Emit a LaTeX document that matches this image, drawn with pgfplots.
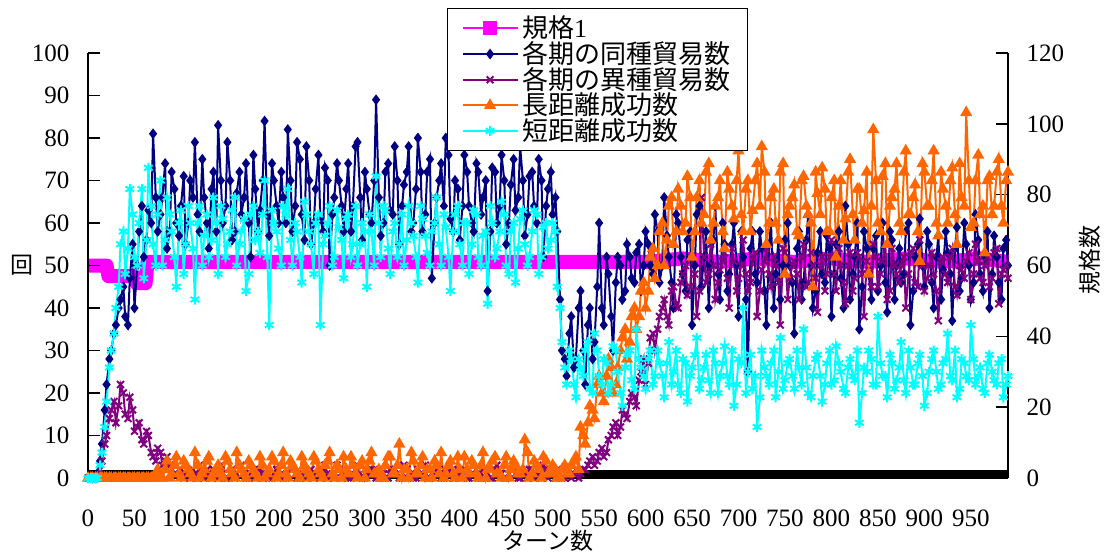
\documentclass[border=0pt]{standalone}
\usepackage{fontspec}
\setmainfont{Liberation Serif}
\newfontfamily\jp{Noto Sans CJK JP}
\usepackage{pgfplots}
\usepackage{pgfplotstable}
\pgfplotsset{compat=1.18}
\definecolor{cmag}{RGB}{255,0,255}
\definecolor{cnavy}{RGB}{0,0,128}
\definecolor{cpurp}{RGB}{128,0,128}
\definecolor{corange}{RGB}{255,102,0}
\definecolor{ccyan}{RGB}{0,255,255}
\pgfplotstableread{
t N P O C
0 0 0 0 0
3 0 0 0 0
5 0 0 0 0
8 0 0 0 0
10 1 0 0 0
13 4 2 0 3
15 8 4 0 6
18 16 8 0 12
20 22 10 0 18
23 28 14 0 26
25 30 16 0 30
28 34 18 0 34
30 36 13 0 40
33 40 17 0 45
35 42 22 0 55
38 45 20 0 58
40 38 15 0 48
43 36 14 0 54
45 47 19 0 68
48 55 16 0 62
50 40 11 0 52
53 50 12 0 50
55 58 13 0 60
58 64 9 0 68
60 52 8 0 47
63 56 11 0 56
65 63 10 0 73
68 60 6 0 64
70 81 5 0 55
73 66 4 1 50
75 58 7 2 62
78 62 6 0 70
80 66 3 0 50
83 74 4 2 56
85 54 5 4 66
88 58 3 0 62
90 72 2 1 58
93 68 1 3 52
95 60 1 5 45
98 57 2 1 60
100 64 2 0 63
103 71 0 4 48
105 55 1 3 55
108 60 1 2 64
110 70 0 1 60
113 66 2 0 54
115 79 1 6 42
118 62 0 3 60
120 58 3 0 64
123 75 1 1 50
125 66 0 2 57
128 60 2 4 62
130 54 1 5 52
133 68 0 0 56
135 72 2 1 66
138 58 1 2 60
140 83 0 3 48
143 70 3 1 64
145 60 1 0 61
148 64 0 5 52
150 79 0 4 55
153 70 1 2 58
155 56 2 1 63
158 58 0 0 66
160 67 1 6 50
163 72 2 3 55
165 62 3 2 58
168 66 1 1 61
170 74 0 0 44
173 60 0 4 48
175 52 1 3 62
178 76 1 2 64
180 68 0 1 56
183 58 2 0 58
185 63 2 5 53
188 70 0 3 62
190 84 1 0 70
193 62 1 1 52
195 57 0 2 36
198 74 0 5 63
200 70 1 4 60
203 64 2 0 58
205 60 3 1 54
208 72 1 3 50
210 66 0 6 64
213 60 0 1 62
215 82 1 0 68
218 70 3 4 56
220 58 2 3 50
223 64 1 2 60
225 79 0 1 58
228 75 0 0 52
230 62 1 5 46
233 56 2 3 65
235 78 0 2 62
238 70 1 1 58
240 55 2 0 55
243 60 0 5 48
245 68 1 4 60
248 76 1 2 62
250 61 0 1 36
253 58 2 0 55
255 73 3 3 57
258 70 0 4 60
260 50 1 6 64
263 62 1 1 50
265 66 0 0 52
268 74 3 3 63
270 70 2 2 59
273 64 0 0 56
275 58 1 5 47
278 68 1 2 61
280 74 0 1 62
283 58 0 5 52
285 64 1 3 55
288 78 2 1 64
290 79 3 0 50
293 66 1 3 55
295 56 0 4 60
298 72 0 0 58
300 68 1 2 45
303 62 1 4 62
305 60 2 6 58
308 70 2 1 50
310 89 0 1 71
313 66 0 2 60
315 57 1 0 52
318 60 1 0 64
320 72 0 3 63
323 74 0 5 54
325 63 2 5 48
328 62 2 1 58
330 78 1 1 60
333 70 1 3 52
335 55 0 8 55
338 64 0 0 62
340 69 3 2 50
343 72 2 2 56
345 78 1 0 64
348 58 1 6 60
350 60 0 4 57
353 68 0 1 52
355 80 2 1 46
358 72 1 3 64
360 58 1 5 61
363 62 3 0 57
365 72 0 2 53
368 75 0 2 50
370 47 1 0 58
373 60 1 4 60
375 66 2 3 66
378 70 2 1 55
380 74 0 6 50
383 64 0 0 62
385 80 1 1 59
388 76 1 3 52
390 61 3 4 44
393 58 0 1 58
395 70 0 0 62
398 68 2 5 64
400 56 1 2 55
403 64 1 0 50
405 76 2 5 60
408 72 0 2 60
410 64 0 1 48
413 60 1 4 55
415 58 1 3 63
418 74 2 1 62
420 72 0 0 52
423 62 0 3 50
425 66 2 6 57
428 70 1 0 58
430 44 1 2 41
433 58 0 2 64
435 73 0 4 60
438 72 2 5 52
440 60 3 1 54
443 64 1 1 58
445 76 1 0 65
448 70 0 3 62
450 55 0 5 50
453 60 1 0 48
455 69 2 2 58
458 75 3 4 60
460 63 1 3 46
463 66 0 1 54
465 78 0 1 61
468 70 1 2 63
470 57 1 9 55
473 62 0 6 50
475 71 2 0 52
478 72 2 1 58
480 64 0 4 63
483 60 1 3 62
485 75 1 2 48
488 70 0 0 52
490 52 3 5 59
493 64 2 4 60
495 68 0 1 54
498 72 1 1 56
500 62 1 3 60
503 66 0 2 58
505 58 2 0 45
508 42 1 0 40
510 30 0 2 32
513 28 0 3 26
515 24 1 1 22
518 34 2 1 30
520 38 0 3 28
523 26 1 4 22
525 28 2 5 19
528 40 0 2 28
530 44 1 12 26
533 30 2 10 24
535 22 2 8 30
538 36 3 13 32
540 40 4 17 21
543 28 5 16 20
545 32 3 14 34
548 45 4 22 30
550 60 6 24 24
553 40 7 20 22
555 36 5 18 28
558 52 6 24 27
560 48 9 28 20
563 38 10 26 22
565 30 12 20 31
568 46 13 22 30
570 52 10 26 25
573 50 12 30 20
575 42 16 33 17
578 44 15 35 26
580 55 14 28 29
583 52 18 32 30
585 47 20 38 23
588 46 19 40 21
590 53 17 35 35
593 55 23 38 28
595 44 25 44 26
598 50 28 46 24
600 58 22 40 21
603 55 27 44 28
605 50 33 52 30
608 48 34 54 22
610 62 30 47 24
613 58 35 50 30
615 46 38 58 27
618 50 40 60 24
620 66 42 50 19
623 57 38 56 27
625 52 36 64 32
628 46 44 66 22
630 40 45 55 25
633 62 41 58 30
635 60 40 68 22
638 52 46 64 20
640 48 48 58 28
643 44 50 60 27
645 56 43 71 18
648 58 45 66 24
650 36 52 52 26
653 50 48 58 29
655 62 38 66 33
658 64 44 70 21
660 45 66 60 23
663 52 52 62 26
665 58 46 72 29
668 40 48 74 23
670 50 55 56 20
673 56 50 60 30
675 64 42 64 27
678 48 46 66 20
680 42 49 70 24
683 60 51 58 27
685 55 53 54 31
688 44 47 72 24
690 48 40 68 22
693 55 54 64 30
695 60 51 61 17
698 50 44 70 22
700 38 47 77 28
703 58 50 62 27
705 52 56 58 40
708 42 48 68 20
710 25 44 70 25
713 54 46 58 29
715 58 52 63 21
718 48 53 70 24
720 46 38 74 12
723 58 44 64 19
725 54 49 78 30
728 44 51 72 26
730 36 54 55 24
733 55 48 60 22
735 60 45 66 27
738 40 52 68 30
740 48 50 60 19
743 56 46 56 25
745 42 36 72 33
748 50 54 74 21
750 56 53 48 23
753 60 42 62 27
755 50 47 64 28
758 46 50 66 24
760 34 51 69 21
763 54 48 58 30
765 58 42 57 26
768 42 52 70 22
770 46 55 71 35
773 56 45 64 26
775 62 46 62 20
778 50 53 60 19
780 40 50 45 24
783 44 47 72 28
785 53 39 67 29
788 58 50 62 24
790 48 52 73 18
793 46 44 68 22
795 57 48 58 27
798 54 52 58 30
800 38 56 66 22
803 48 48 70 23
805 55 44 52 31
808 58 54 64 27
810 47 50 70 25
813 40 46 56 21
815 64 41 61 20
818 55 50 72 26
820 42 53 75 28
823 48 44 62 24
825 52 47 56 23
828 60 53 68 30
830 35 52 68 13
833 45 48 60 20
835 58 38 63 26
838 54 51 72 25
840 48 49 48 30
843 42 45 64 28
845 54 55 82 22
848 57 52 70 22
850 44 45 60 38
853 50 48 58 27
855 60 51 71 24
858 46 55 74 24
860 39 42 55 19
863 58 44 64 29
865 56 54 66 27
868 42 50 68 21
870 50 48 74 23
873 54 46 60 26
875 46 50 58 32
878 48 52 72 23
880 58 40 77 20
883 60 48 62 30
885 36 53 62 26
888 44 54 66 22
890 52 46 69 22
893 55 45 58 27
895 61 56 51 29
898 50 50 74 24
900 45 44 72 17
903 58 47 64 20
905 55 50 64 25
908 46 53 70 28
910 40 48 77 30
913 52 44 60 25
915 57 37 57 21
918 42 51 72 22
920 49 52 68 27
923 58 48 64 28
925 53 46 60 34
928 48 52 70 24
930 37 54 73 23
933 54 45 62 30
935 59 43 55 19
938 44 50 74 21
940 47 49 66 28
943 60 47 64 27
945 55 51 86 24
948 50 53 70 23
950 42 42 59 36
953 46 48 60 28
955 62 55 70 22
958 56 51 76 24
960 48 47 62 26
963 44 46 64 21
965 52 50 53 20
968 58 52 70 27
970 40 45 71 29
973 48 47 62 25
975 57 53 64 23
978 52 54 72 22
980 46 41 75 27
983 42 48 64 28
985 54 49 60 19
988 56 50 70 22
990 50 47 72 24
}\data
\pgfplotsset{
  base/.style={scale only axis, width=460pt, height=212.5pt,
    xmin=0, xmax=990, clip=false, at={(0,0)}, anchor=south west,
    /pgf/number format/assume math mode=true,
    tick label style={font=\fontsize{12.5}{14}\selectfont},
    label style={font=\jp\fontsize{11.5}{13}\selectfont},
    axis line style={line width=0.75pt, black},
    tick align=inside, major tick length=6pt,
    y tick style={black, line width=0.75pt},
  },
}
\begin{document}
\begin{tikzpicture}
\begin{axis}[base, ymin=0, ymax=120,
  axis x line=none, axis y line*=right,
  ytick={0,20,...,120},
  yticklabel style={xshift=5.8pt},
  ylabel={規格数},
  y label style={at={(axis description cs:1.089,0.513)}, anchor=center},
]
\addplot[black, line width=4pt] coordinates {(0,1) (70,1)};
\addplot[black, line width=4pt] coordinates {(530,1) (990,1)};
\addplot[cmag, line width=7pt, line join=round] coordinates {(0,60) (20,60) (22,57) (50,57) (52,55) (62,55) (64,61) (600,61) (640,62) (680,61) (720,62) (760,61) (800,62) (840,61) (880,62) (920,61) (960,62) (990,61)};
\end{axis}
\begin{axis}[base, ymin=0, ymax=100,
  axis x line*=bottom, axis y line*=left,
  xtick={0,50,...,950}, ytick={0,10,...,100},
  xtick style={draw=none},
  xticklabel style={yshift=-12.5pt},
  yticklabel style={xshift=-5.8pt},
  xlabel={ターン数}, ylabel={回},
  x label style={at={(axis description cs:0.5,-0.148)}, anchor=center},
  y label style={at={(axis description cs:-0.0717,0.5)}, rotate=-90, anchor=center},
  legend style={at={(0.39,1.106)}, anchor=north west, draw=black, line width=0.75pt,
    fill=white, font=\jp\fontsize{13}{13}\selectfont, cells={anchor=west},
    inner xsep=7pt, inner ysep=3.5pt,
    nodes={inner ysep=0.16pt, inner xsep=1.75pt}},
  legend image code/.code={\draw[mark repeat=2,mark phase=2] plot coordinates {(0pt,0pt) (13.75pt,0pt) (27.5pt,0pt)};},
]
\addlegendimage{cmag, line width=1pt, mark=square*, mark size=3pt}
\addlegendentry{規格{\rmfamily 1}}
\addplot[cnavy, line width=1pt, mark=diamond*, mark size=1.9pt] table[x=t,y=N]{\data};
\addlegendentry{各期の同種貿易数}
\addplot[cpurp, line width=1pt, mark=x, mark size=2.4pt] table[x=t,y=P]{\data};
\addlegendentry{各期の異種貿易数}
\addplot[corange, line width=1pt, mark=triangle*, mark size=2.5pt] table[x=t,y=O]{\data};
\addlegendentry{長距離成功数}
\addplot[ccyan, line width=1pt, mark=asterisk, mark size=2.5pt] table[x=t,y=C]{\data};
\addlegendentry{短距離成功数}
\end{axis}
\pgfresetboundingbox
\path (-44pt,-37.5pt) rectangle (510.5pt,239pt);
\end{tikzpicture}
\end{document}
